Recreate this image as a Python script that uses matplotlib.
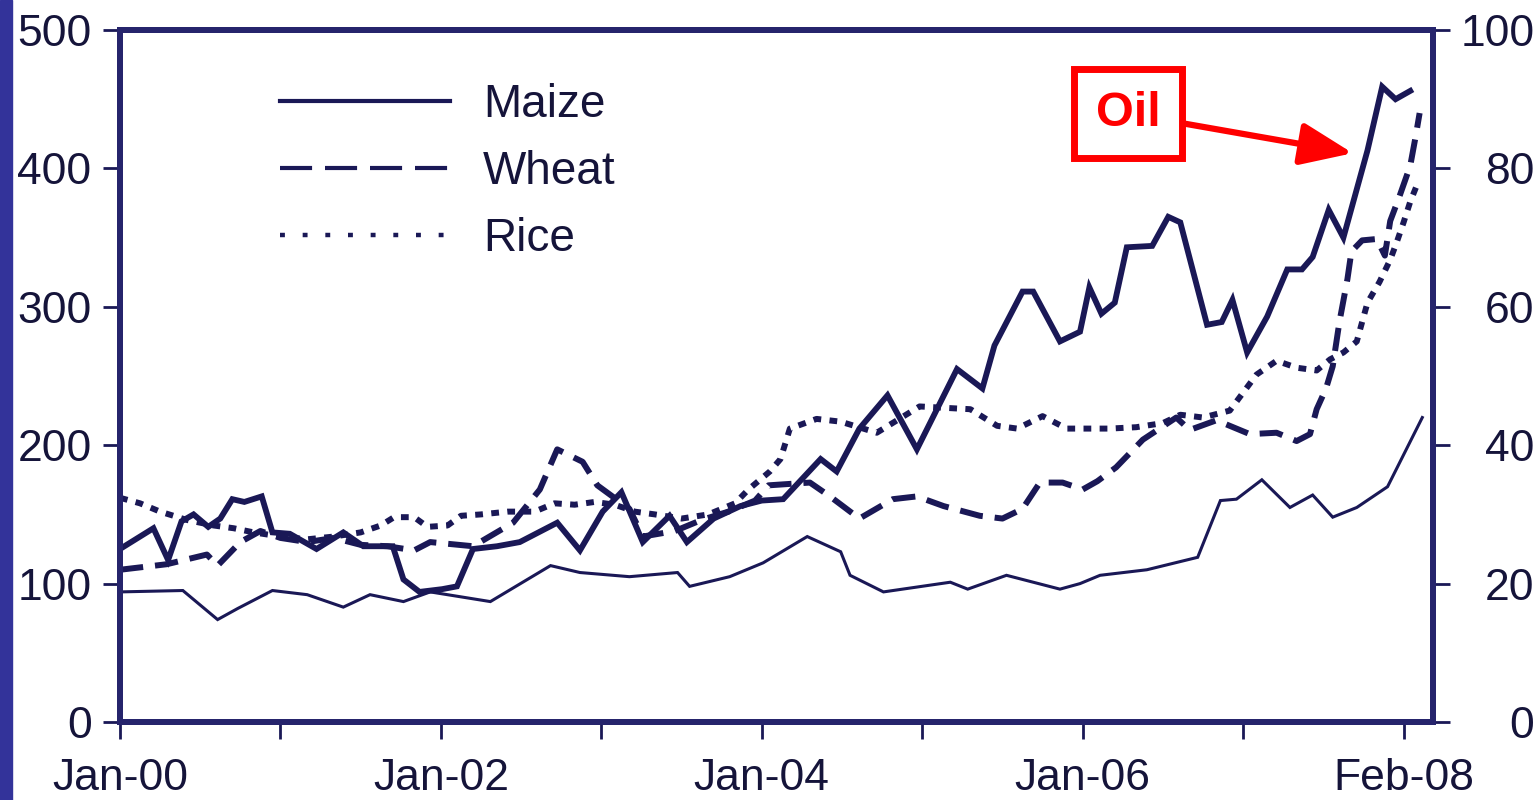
import matplotlib
matplotlib.use("Agg")
import matplotlib.pyplot as plt
from matplotlib.lines import Line2D
from matplotlib.patches import Rectangle

plt.rcParams['font.family'] = ['Liberation Sans', 'DejaVu Sans']

# months counted from Jan-2000
oil_m = [0, 2.5, 3.6, 4.6, 5.5, 6.6, 7.5, 8.4, 9.3, 10.6,
         11.4, 12.7, 14.7, 16.7, 18.2, 20.4, 21.2, 22.4, 24.1, 25.2,
         26.4, 28.2, 29.9, 32.7, 34.4, 36.1, 37.5, 39.1, 41.1, 42.4,
         44.4, 46.4, 48.0, 49.6, 52.4, 53.6, 55.3, 57.4, 59.6, 62.6,
         64.5, 65.4, 67.5, 68.3, 70.3, 71.8, 72.5, 73.4, 74.4, 75.3,
         77.2, 78.4, 79.3, 81.3, 82.4, 83.2, 84.3, 85.8, 87.3, 88.4,
         89.2, 90.4, 91.5, 93.3, 94.4, 95.4, 96.5]
# $/barrel (right axis)
oil = [25.0, 28.0, 23.4, 29.0, 30.0, 28.2, 29.4, 32.2, 31.8, 32.6,
       27.4, 27.2, 25.0, 27.4, 25.4, 25.4, 20.6, 18.8, 19.2, 19.6,
       25.0, 25.4, 26.0, 28.8, 24.8, 30.4, 33.2, 26.0, 29.8, 26.0,
       29.4, 31.2, 32.0, 32.2, 38.0, 36.2, 42.4, 47.2, 39.4, 51.0,
       48.2, 54.4, 62.2, 62.2, 55.0, 56.4, 62.8, 59.0, 60.6, 68.6,
       68.8, 73.0, 72.2, 57.4, 57.8, 61.0, 53.4, 58.6, 65.4, 65.4,
       67.2, 74.0, 70.0, 82.6, 91.8, 90.0, 91.2]

maize_m = [0, 4.7, 7.3, 8.8, 11.4, 14.0, 16.7, 18.7, 21.2, 23.2,
           27.7, 32.2, 34.4, 38.1, 41.7, 42.6, 45.6, 48.1, 51.4, 53.9,
           54.6, 57.1, 62.1, 63.4, 66.3, 70.3, 71.8, 73.3, 76.8, 80.6,
           82.3, 83.5, 85.4, 87.5, 89.2, 90.7, 92.5, 94.8, 97.4]
maize = [94, 95, 74, 82, 95, 92, 83, 92, 87, 94,
         87, 113, 108, 105, 108, 98, 105, 115, 134, 123,
         106, 94, 101, 96, 106, 96, 100, 106, 110, 119,
         160, 161, 175, 155, 164, 148, 155, 170, 220]

wheat_m = [0, 3.5, 6.5, 7.3, 9.0, 10.5, 12, 14, 16, 18,
           20, 22, 23.2, 26.4, 29.4, 31.4, 32.7, 34.6, 35.7, 38.1,
           39.1, 41.5, 43.5, 45.5, 47.5, 48.5, 51.6, 53.1, 55.3, 57.8,
           59.6, 61.6, 64.3, 66.0, 67.5, 68.8, 70.5, 72.0, 73.1, 74.5,
           76.5, 79.0, 80.0, 82.0, 84.5, 86.5, 88.0, 89.0, 89.5, 90.2,
           90.7, 91.2, 91.8, 92.1, 92.9, 94.0, 94.6, 95.0, 95.7, 96.5,
           96.9, 97.2]
wheat = [110, 114, 121, 113, 130, 138, 133, 130, 133, 128,
         127, 124, 130, 127, 144, 168, 197, 188, 171, 154,
         134, 138, 146, 152, 160, 171, 173, 163, 147, 161,
         163, 156, 149, 147, 154, 173, 173, 168, 174, 184,
         204, 220, 211, 218, 208, 209, 203, 208, 226, 241,
         257, 289, 320, 340, 348, 349, 337, 362, 380, 402,
         423, 440]

rice_m = [0, 1.5, 3, 5, 7, 8.5, 10, 12, 14, 16,
          18, 19.5, 20.5, 22, 23, 24.5, 25.5, 27, 29, 31,
          32.5, 34, 35.5, 37, 38.5, 40, 42, 44, 46, 47,
          48.6, 49.4, 50.1, 52.1, 53.9, 56.6, 59.8, 63.6, 65.6, 67.1,
          69.0, 70.8, 72.3, 74, 76, 78, 79.3, 81, 83, 84,
          85, 86.5, 88, 89.5, 90.5, 91.5, 92.5, 92.9, 93.3, 94.2,
          95.0, 95.5, 96.0, 96.5, 97.0]
rice = [162, 158, 152, 146, 142, 140, 137, 134, 132, 134,
        137, 142, 148, 148, 141, 142, 149, 150, 152, 152,
        158, 157, 159, 157, 152, 150, 147, 150, 158, 168,
        181, 190, 212, 219, 217, 209, 228, 226, 214, 212,
        221, 212, 212, 212, 213, 216, 222, 220, 225, 238,
        251, 261, 256, 254, 262, 267, 275, 289, 303, 318,
        334, 347, 361, 376, 388]

major_ticks = [0, 24, 48, 72, 96]
major_labels = ['Jan-00', 'Jan-02', 'Jan-04', 'Jan-06', 'Feb-08']
minor_ticks = [12, 36, 60, 84]

navy = '#1a1856'
spine_col = '#26246c'
txt = '#15143a'

fig = plt.figure(figsize=(15.34, 8.0), dpi=100)
fig.patch.set_facecolor('white')
ax = fig.add_axes([120 / 1534, 1 - 722 / 800, 1313 / 1534, 692 / 800])
ax2 = ax.twinx()

ax.plot(maize_m, maize, color=navy, lw=2.2, solid_joinstyle='miter')
ax.plot(wheat_m, wheat, color=navy, lw=4.3, ls=(0, (3.9, 2.0)))
ax.plot(rice_m, rice, color=navy, lw=4.3, ls=(0, (1.3, 1.4)))
ax2.plot(oil_m, oil, color=navy, lw=4.2, solid_joinstyle='miter')

ax.set_xlim(0, 98.2)
ax.set_ylim(0, 500)
ax2.set_ylim(0, 100)
ax.set_yticks(range(0, 501, 100))
ax2.set_yticks(range(0, 101, 20))
ax.set_xticks(major_ticks)
ax.set_xticklabels(major_labels)
ax.set_xticks(minor_ticks, minor=True)

for a in (ax, ax2):
    for s in a.spines.values():
        s.set_linewidth(4.3)
        s.set_color(spine_col)
ax.tick_params(axis='x', which='both', direction='out', length=12, width=2,
               color=navy, labelsize=32, labelcolor=txt, pad=14)
ax.tick_params(axis='y', direction='out', length=12, width=2,
               color=navy, labelsize=32, labelcolor=txt, pad=8.5)
ax2.tick_params(axis='y', direction='out', length=12, width=2,
                color=navy, labelsize=32, labelcolor=txt, pad=61)
for lbl in ax2.get_yticklabels():
    lbl.set_horizontalalignment('right')

handles = [Line2D([], [], color=navy, lw=3),
           Line2D([], [], color=navy, lw=3, ls=(0, (7.7, 3.1))),
           Line2D([], [], color=navy, lw=3.2, ls=(0, (1.1, 4.0)))]
leg = ax.legend(handles, ['Maize', 'Wheat', 'Rice'], loc='upper left',
                bbox_to_anchor=(0.122, 0.924), frameon=False, fontsize=33,
                handlelength=3.7, handletextpad=0.72, labelspacing=0.51,
                borderpad=0, borderaxespad=0)
for t in leg.get_texts():
    t.set_color(txt)

ax2.annotate('Oil', xy=(92.2, 82.2), xytext=(75.4, 87.9), textcoords='data',
             color='red', fontsize=35, fontweight='bold', ha='center', va='center',
             bbox=dict(boxstyle='square,pad=0.45', fc='white', ec='red', lw=5),
             arrowprops=dict(arrowstyle='-|>,head_length=1.6,head_width=0.65',
                             color='red', lw=4.5, shrinkA=0, shrinkB=0,
                             mutation_scale=20))

fig.add_artist(Rectangle((0, 0), 12 / 1534, 1, transform=fig.transFigure,
                         color='#33339a', zorder=10))

fig.savefig('out.png', dpi=100)
